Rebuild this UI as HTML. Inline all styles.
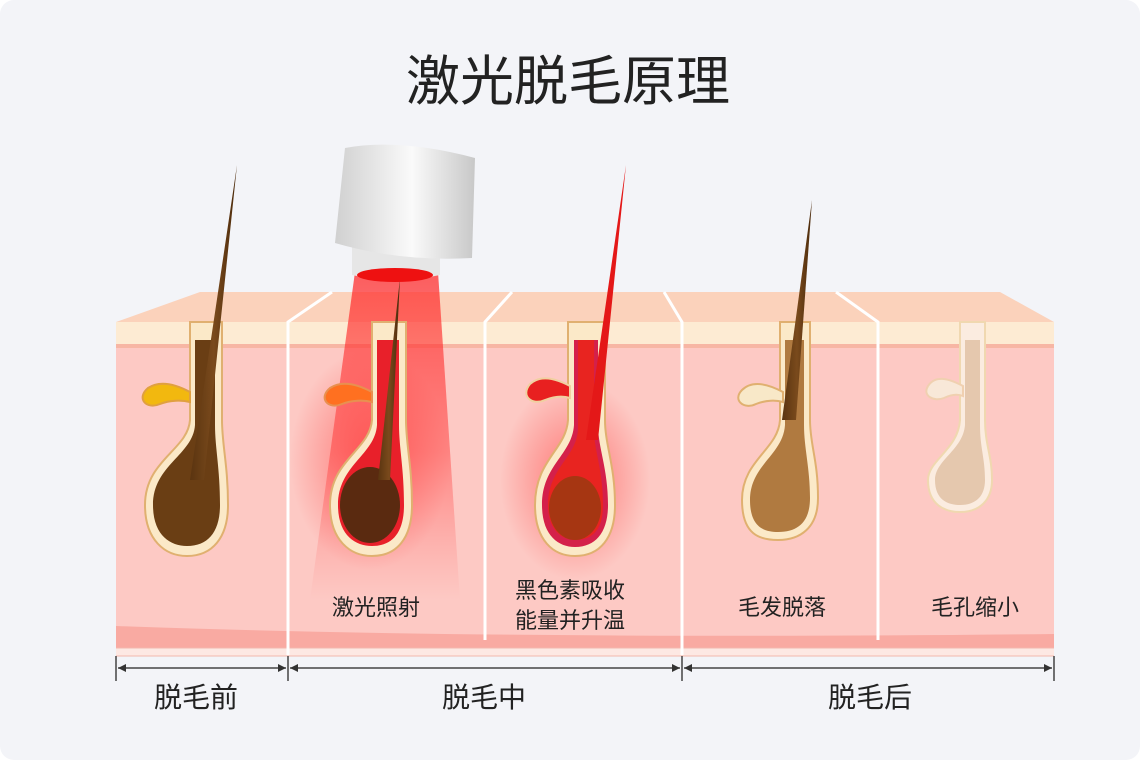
<!DOCTYPE html>
<html><head><meta charset="utf-8"><style>
html,body{margin:0;padding:0;background:#fff}
svg{display:block}
text{font-family:"Liberation Sans","Noto Sans CJK SC",sans-serif;fill:#222}
</style></head><body>
<svg width="1140" height="760" viewBox="0 0 1140 760" xmlns="http://www.w3.org/2000/svg">
<defs>
<linearGradient id="dev" x1="0" x2="1"><stop offset="0" stop-color="#d0d0d0"/><stop offset="0.55" stop-color="#fafafa"/><stop offset="1" stop-color="#c8c8c8"/></linearGradient>
<linearGradient id="beam" x1="0" y1="0" x2="0" y2="1"><stop offset="0" stop-color="#ff2a2a" stop-opacity="0.75"/><stop offset="0.55" stop-color="#ff3030" stop-opacity="0.45"/><stop offset="1" stop-color="#ff5050" stop-opacity="0"/></linearGradient>
<radialGradient id="glow"><stop offset="0" stop-color="#ff3030" stop-opacity="0.55"/><stop offset="1" stop-color="#ff3030" stop-opacity="0"/></radialGradient>
<linearGradient id="brown" x1="0" x2="1"><stop offset="0" stop-color="#5a3410"/><stop offset="0.5" stop-color="#7a4a1c"/><stop offset="1" stop-color="#4a2a0c"/></linearGradient>
</defs>
<rect x="0" y="0" width="1140" height="760" rx="14" fill="#f3f4f8"/>
<text x="568" y="100" font-size="54" text-anchor="middle">激光脱毛原理</text>

<!-- skin block -->
<polygon points="116,322 200,292 1000,292 1054,322" fill="#fbd2bb"/>
<rect x="116" y="322" width="938" height="334" fill="#fdc9c4"/>
<rect x="116" y="322" width="938" height="24" fill="#fdebd3"/>
<rect x="116" y="344" width="938" height="4" fill="#f7b6a4"/>
<path d="M116 626 Q500 640 1054 634 L1054 648 L116 648 Z" fill="#f9aaa2"/>
<rect x="116" y="648" width="938" height="8" fill="#fde8e3"/>
<g stroke="#f2b7ad" stroke-width="1">
<line x1="116" y1="648" x2="1054" y2="648"/><line x1="116" y1="656" x2="1054" y2="656"/>
</g>
<g stroke="#fff" stroke-width="3" fill="none">
<polyline points="288,655 288,322 332,292"/>
<polyline points="485,640 485,322 512,292"/>
<polyline points="682,655 682,322 664,292"/>
<polyline points="878,640 878,322 836,292"/>
</g>

<!-- glows -->
<ellipse cx="370" cy="460" rx="80" ry="110" fill="url(#glow)"/>
<ellipse cx="575" cy="480" rx="75" ry="100" fill="url(#glow)"/>

<!-- follicle 1 -->
<g>
<path d="M190 322 L190 420 C188 450 145 460 145 505 C145 540 165 556 187 556 C212 556 228 538 228 505 C228 465 222 445 222 420 L222 322 Z" fill="#fbe9c8" stroke="#e0b070" stroke-width="2"/>
<path d="M195 340 L195 425 C193 455 153 465 153 505 C153 535 170 546 187 546 C208 546 220 532 220 505 C220 468 215 448 215 425 L215 340 Z" fill="#6a3e14"/>
<path d="M190 392 C175 384 160 380 148 388 C136 398 146 410 160 404 C170 400 182 400 190 402 Z" fill="#f2b80f" stroke="#e0a040" stroke-width="2"/>
<polygon points="237,165 190,480 204,480" fill="url(#brown)"/>
</g>

<!-- laser beam col2 -->
<polygon points="355,272 438,272 460,600 310,600" fill="url(#beam)"/>
<!-- follicle 2 -->
<g>
<path d="M372 322 L372 420 C370 450 330 460 330 505 C330 540 350 556 372 556 C397 556 412 538 412 505 C412 465 406 445 406 420 L406 322 Z" fill="#fbe9c8" stroke="#e0b070" stroke-width="2"/>
<path d="M377 340 L377 425 C375 455 338 465 338 505 C338 535 355 546 372 546 C393 546 404 532 404 505 C404 468 399 448 399 425 L399 340 Z" fill="#e8202a"/>
<ellipse cx="370" cy="505" rx="30" ry="38" fill="#5a2a10"/>
<path d="M372 392 C357 384 342 380 330 388 C318 398 328 410 342 404 C352 400 364 400 372 402 Z" fill="#ff7020" stroke="#e89050" stroke-width="2"/>
<polygon points="400,278 378,480 390,480" fill="url(#brown)"/>
</g>

<!-- device -->
<path d="M352 245 L440 245 L440 275 Q395 285 352 275 Z" fill="#e6e6e6"/>
<ellipse cx="395" cy="275" rx="38" ry="7" fill="#ee1111"/>
<path d="M345 148 Q400 138 475 158 L472 258 Q400 262 335 243 Z" fill="url(#dev)"/>

<!-- follicle 3 -->
<g>
<path d="M568 322 L568 420 C566 450 535 460 535 505 C535 540 553 556 575 556 C600 556 615 538 615 505 C615 465 605 445 605 420 L605 322 Z" fill="#fbe9c8" stroke="#e0b070" stroke-width="2"/>
<path d="M574 340 L574 425 C572 455 542 465 542 505 C542 535 558 547 575 547 C596 547 608 532 608 505 C608 468 598 448 598 425 L598 340 Z" fill="#d4204a"/>
<path d="M578 340 L578 430 C576 458 548 468 548 505 C548 530 562 540 575 540 C594 540 603 528 603 505 C603 470 594 450 594 430 L594 340 Z" fill="#e82420"/>
<ellipse cx="575" cy="508" rx="26" ry="32" fill="#9a3a10" opacity="0.85"/>
<path d="M570 386 C555 378 540 375 530 384 C520 396 532 406 545 400 C555 396 564 396 570 398 Z" fill="#e82020" stroke="#f0d0a0" stroke-width="2"/>
<polygon points="626,165 586,440 598,440" fill="#e41818"/>
</g>

<!-- follicle 4 -->
<g>
<path d="M780 322 L780 420 C778 450 742 460 742 500 C742 535 760 540 778 540 C800 540 818 528 818 498 C818 460 810 445 810 420 L810 322 Z" fill="#fbe9c8" stroke="#e0b070" stroke-width="2"/>
<path d="M785 340 L785 425 C783 455 750 465 750 500 C750 528 765 532 778 532 C798 532 810 522 810 498 C810 468 804 448 804 425 L804 340 Z" fill="#b07a40"/>
<path d="M783 392 C768 384 752 380 742 390 C732 400 744 410 756 404 C766 400 776 400 783 402 Z" fill="#f8e8c8" stroke="#e0b070" stroke-width="2"/>
<polygon points="812,200 782,420 796,420" fill="url(#brown)"/>
</g>

<!-- follicle 5 -->
<g>
<path d="M960 322 L960 420 C958 450 928 460 928 480 C928 505 945 512 960 512 C980 512 992 500 992 480 C992 455 985 445 985 420 L985 322 Z" fill="#fbece0" stroke="#f0d8b0" stroke-width="2"/>
<path d="M965 340 L965 425 C963 450 935 460 935 480 C935 500 948 505 960 505 C976 505 985 496 985 480 C985 458 980 448 980 425 L980 340 Z" fill="#e5c8ae"/>
<path d="M963 386 C948 378 935 375 928 386 C922 396 934 402 944 398 C952 394 958 394 963 396 Z" fill="#f8e8d8" stroke="#f0d0b0" stroke-width="2"/>
</g>

<!-- labels -->
<g font-size="22">
<text x="376" y="615" text-anchor="middle">激光照射</text>
<text x="570" y="598" text-anchor="middle">黑色素吸收</text>
<text x="570" y="628" text-anchor="middle">能量并升温</text>
<text x="782" y="615" text-anchor="middle">毛发脱落</text>
<text x="975" y="615" text-anchor="middle">毛孔缩小</text>
</g>

<!-- ruler -->
<g stroke="#444" stroke-width="1.5" fill="#333">
<line x1="116" y1="656" x2="116" y2="681"/>
<line x1="288" y1="656" x2="288" y2="681"/>
<line x1="682" y1="656" x2="682" y2="681"/>
<line x1="1054" y1="656" x2="1054" y2="681"/>
<line x1="118" y1="668" x2="286" y2="668"/>
<line x1="290" y1="668" x2="680" y2="668"/>
<line x1="684" y1="668" x2="1052" y2="668"/>
<polygon points="118,668 126,664 126,672" stroke="none"/>
<polygon points="286,668 278,664 278,672" stroke="none"/>
<polygon points="290,668 298,664 298,672" stroke="none"/>
<polygon points="680,668 672,664 672,672" stroke="none"/>
<polygon points="684,668 692,664 692,672" stroke="none"/>
<polygon points="1052,668 1044,664 1044,672" stroke="none"/>
</g>
<g font-size="28">
<text x="196" y="707" text-anchor="middle">脱毛前</text>
<text x="484" y="707" text-anchor="middle">脱毛中</text>
<text x="870" y="707" text-anchor="middle">脱毛后</text>
</g>
</svg>
</body></html>
